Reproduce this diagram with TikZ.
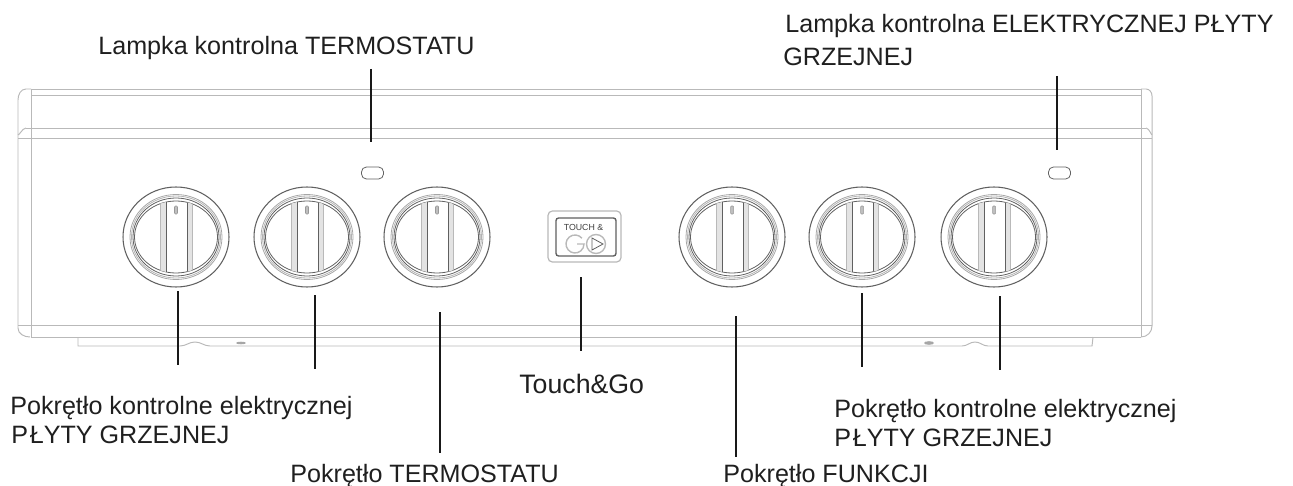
\documentclass[tikz,border=0pt]{standalone}
\usepackage{fontspec}
\setmainfont{Liberation Sans}
\usetikzlibrary{positioning, calc}

\begin{document}
\begin{tikzpicture}[x=0.02cm, y=-0.02cm,
    panel/.style={draw=gray!55, line width=0.55pt},
    ring/.style={draw=gray!75!black, line width=0.45pt},
    leader/.style={draw=black!90, line width=1.05pt},
    lbl/.style={anchor=base west, inner sep=0pt, font=\fontsize{14.3}{16}\selectfont, text=black!88}]
  \useasboundingbox (0,0) rectangle (1293,486);

  % Cabinet outline
  \draw[panel] (31,89) -- (1141,89) (31,95) -- (1141,95);
  \draw[panel] (26,128) -- (1146,128) (18,138) -- (1152,138);
  \draw[panel] (18,325) -- (1152,325) (31,337) -- (1141,337);
  \draw[panel] (31,89) -- (31,337) (1141,89) -- (1141,337);
  \draw[panel] (31,89) -- (26,89) to[out=180, in=90] (18,100) -- (18,328) to[out=270, in=180] (30,337);
  \draw[panel] (1141,89) -- (1146,89) to[out=0, in=90] (1152,96) -- (1152,326) to[out=270, in=0] (1141,337);
  \draw[panel] (18,134) to[out=270, in=180] (26,128) (1146,128) to[out=0, in=270] (1152,134);

  % Bottom strip
  \draw[panel] (78,337) -- (78,346) -- (180,346) to[out=0, in=180] (195,342) to[out=0, in=180] (210,346)
    -- (962,346) to[out=0, in=180] (975,342) to[out=0, in=180] (988,346) -- (1092,346) -- (1093,337);
  \fill[gray!70] (241,343) ellipse (5 and 1.3);
  \fill[gray!70] (929,343) ellipse (5 and 1.8);

  % Lamps
  \foreach \lx in {372.5,1059.5} {
    \draw[ring, rounded corners=2.8pt] (\lx-11,167) rectangle (\lx+11,179);
  }

  % Knobs
  \foreach \kx in {176,307,437,732,862,994} {
    \draw[ring, line width=0.6pt] (\kx,237) ellipse (53 and 50);
    \draw[ring, draw=gray!70] (\kx,237) ellipse (46 and 42.5);
    \draw[ring, draw=gray!60] (\kx,237) ellipse (44.5 and 41);
    \draw[ring] (\kx,237) ellipse (43 and 39);
    \draw[ring] (\kx,237) ellipse (41.5 and 36);
    \begin{scope}
      \clip (\kx,237) ellipse (41.5 and 36);
      \fill[gray!22] (\kx-16,190) rectangle (\kx-10,280);
      \fill[gray!22] (\kx+11,190) rectangle (\kx+16,280);
      \draw[panel] (\kx-16,190) -- (\kx-16,280) (\kx+16,190) -- (\kx+16,280);
      \draw[ring] (\kx-10,190) -- (\kx-10,280) (\kx+11,190) -- (\kx+11,280);
    \end{scope}
    \draw[gray!80, fill=gray!50, line width=0.3pt, rounded corners=0.5pt] (\kx-1.5,206) rectangle (\kx+1.5,214);
  }

  % Touch & Go
  \draw[panel, rounded corners=2.5pt, line width=0.7pt] (548,211) rectangle (621,262);
  \draw[ring, rounded corners=1.5pt, line width=0.8pt] (556,218) rectangle (616,256);
  \node[inner sep=0pt, font=\fontsize{5}{6}\selectfont, text=black!75] (touchtxt) at (583.5,227) {TOUCH \&};
  \draw[panel, line width=0.8pt] (581.9,238.2) arc[start angle=-40, end angle=-360, radius=9] -- (577,244);
  \draw[panel, line width=0.8pt] (596,244) circle (9.5);
  \draw[ring] (592,238) -- (603,244) -- (592,250) -- cycle;

  % Labels
  \node[lbl] (lampT) at (98,55) {Lampka kontrolna TERMOSTATU};
  \node[lbl] (lampE) at (785,33) {Lampka kontrolna ELEKTRYCZNEJ PŁYTY};
  \node[lbl] (lampE2) at (783,66) {GRZEJNEJ};
  \node[lbl] (knobL) at (10,414) {Pokrętło kontrolne elektrycznej};
  \node[lbl] (knobL2) at (11,443) {P\hspace{1pt}ŁYTY GRZEJNEJ};
  \node[lbl] (knobT) at (290,482) {Pokrętło TERMOSTATU};
  \node[lbl, font=\fontsize{15.2}{18}\selectfont] (touch) at (519,393) {Touch\&Go};
  \node[lbl] (knobF) at (723,482) {Pokrętło FUNKCJI};
  \node[lbl] (knobR) at (834,417) {Pokrętło kontrolne elektrycznej};
  \node[lbl] (knobR2) at (834,446) {P\hspace{1pt}ŁYTY GRZEJNEJ};

  % Leaders
  \foreach \name/\lx/\ya/\yb in {a/371/69/142, b/1057/76/150, c/178/291/365, d/315/295/369,
      e/440/312/453, f/581/277/351, g/736/316/457, h/862/293/367, i/1000/296/370} {
    \coordinate (\name top) at (\lx,\ya);
    \coordinate (\name end) at (\lx,\yb);
    \draw[leader] (\name top) -- (\name end);
  }
\end{tikzpicture}
\end{document}
